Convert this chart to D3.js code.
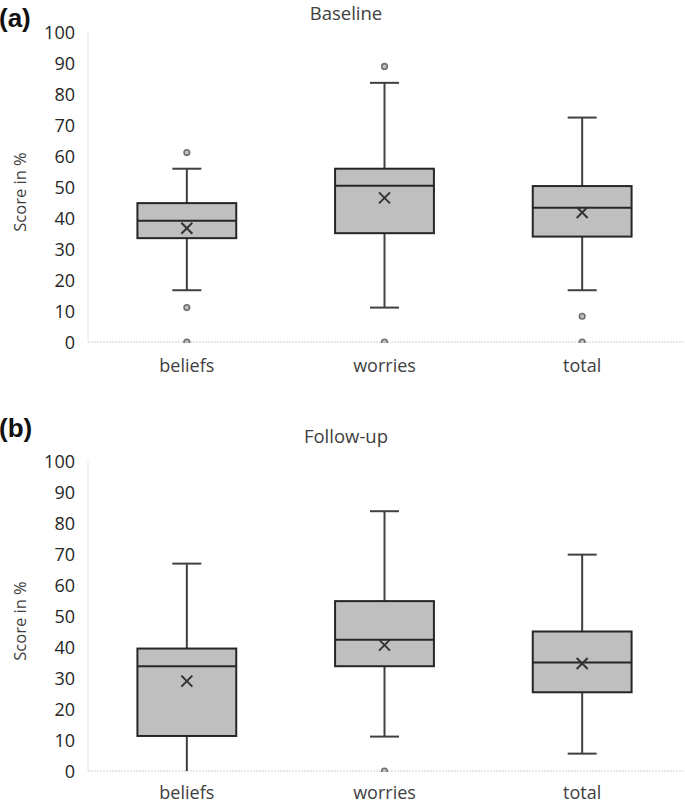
<!DOCTYPE html>
<html>
<head>
<meta charset="utf-8">
<script src="https://cdn.jsdelivr.net/npm/d3@7"></script>
<style>
  html, body { margin: 0; padding: 0; background: #fff; }
  svg { display: block; }
</style>
</head>
<body>
<svg id="chart" width="685" height="803"></svg>
<script>
// ---- data ----
const categories = ["beliefs", "worries", "total"];
const yTicks = [0, 10, 20, 30, 40, 50, 60, 70, 80, 90, 100];

const baselineLow     = [16.7, 11.1, 16.7];
const baselineQ1      = [33.5, 35.1, 34.0];
const baselineMedian  = [39.1, 50.4, 43.3];
const baselineQ3      = [44.8, 55.9, 50.3];
const baselineHigh    = [55.9, 83.6, 72.4];
const baselineMean    = [36.7, 46.5, 41.8];
const baselineOutliers = [[61.1, 11.1, 0], [88.9, 0], [8.3, 0]];

const followupLow     = [0, 11.1, 5.6];
const followupQ1      = [11.3, 33.8, 25.4];
const followupMedian  = [33.8, 42.3, 35.0];
const followupQ3      = [39.5, 54.8, 45.0];
const followupHigh    = [66.9, 83.8, 69.8];
const followupMean    = [29.0, 40.6, 34.7];
const followupOutliers = [[], [0], []];

const panels = [
  { tag: "(a)", title: "Baseline", low: baselineLow, q1: baselineQ1, med: baselineMedian, q3: baselineQ3, high: baselineHigh, mean: baselineMean, out: baselineOutliers, top: 32, bottom: 342, tagY: 27, titleY: 20, catY: 372 },
  { tag: "(b)", title: "Follow-up", low: followupLow, q1: followupQ1, med: followupMedian, q3: followupQ3, high: followupHigh, mean: followupMean, out: followupOutliers, top: 461, bottom: 771, tagY: 437, titleY: 443, catY: 799 }
];

const FONT = "'Open Sans', 'Noto Sans', sans-serif";
const svg = d3.select("#chart");
const left = 88, right = 681;
const x = d3.scaleBand().domain(categories).range([left, right]).padding(0);
const boxW = x.bandwidth() * 0.5;
const capW = 29;
const textColor = "#404040";

panels.forEach((p, pi) => {
  const y = d3.scaleLinear().domain([0, 100]).range([p.bottom, p.top]);
  const g = svg.append("g");

  // panel tag
  g.append("text").attr("x", -1).attr("y", p.tagY)
    .style("font-family", "Arial, 'Liberation Sans', sans-serif")
    .style("font-weight", "bold").style("font-size", "26px").attr("fill", "#111").text(p.tag);

  // title
  g.append("text").attr("x", 346).attr("y", p.titleY).attr("text-anchor", "middle")
    .style("font-family", FONT).style("font-size", "18.5px").attr("fill", textColor).text(p.title);

  // axis lines (light gray)
  g.append("line").attr("x1", left).attr("x2", left).attr("y1", y(100)).attr("y2", y(0))
    .attr("stroke", "#d9d9d9").attr("stroke-width", 1).attr("stroke-dasharray", "2,1");
  g.append("line").attr("x1", left).attr("x2", 685).attr("y1", y(0)).attr("y2", y(0))
    .attr("stroke", "#d0d0d0").attr("stroke-width", 1).attr("stroke-dasharray", "2,1");

  // y axis ticks
  const ya = g.append("g").attr("transform", `translate(${left - 13},0)`)
    .call(d3.axisLeft(y).tickValues(yTicks).tickSize(0).tickPadding(0));
  ya.select(".domain").remove();
  ya.selectAll("text").attr("fill", "#262626")
    .style("font-family", FONT).style("font-size", "18px").attr("dy", "0.35em");

  // y label
  g.append("text").attr("transform", `translate(26,${(y(0) + y(100)) / 2 + 5}) rotate(-90)`)
    .attr("text-anchor", "middle").style("font-family", FONT).style("font-size", "16.5px")
    .attr("fill", textColor).text("Score in %");

  // category labels
  g.selectAll(".cat").data(categories).join("text")
    .attr("x", d => x(d) + x.bandwidth() / 2).attr("y", p.catY)
    .attr("text-anchor", "middle").style("font-family", FONT).style("font-size", "18px")
    .attr("fill", textColor).text(d => d);

  // clip
  const clipId = "clip" + pi;
  svg.append("clipPath").attr("id", clipId).append("rect")
    .attr("x", left).attr("y", y(100) - 10).attr("width", 685 - left).attr("height", y(0) - y(100) + 11);
  const plot = g.append("g").attr("clip-path", `url(#${clipId})`);

  categories.forEach((c, i) => {
    const cx = x(c) + x.bandwidth() / 2;
    const wc = "#404040";
    // whiskers
    plot.append("line").attr("x1", cx).attr("x2", cx).attr("y1", y(p.high[i])).attr("y2", y(p.q3[i]))
      .attr("stroke", wc).attr("stroke-width", 2);
    plot.append("line").attr("x1", cx).attr("x2", cx).attr("y1", y(p.q1[i])).attr("y2", y(p.low[i]))
      .attr("stroke", wc).attr("stroke-width", 2);
    // caps
    if (p.high[i] !== p.q3[i])
      plot.append("line").attr("x1", cx - capW / 2).attr("x2", cx + capW / 2).attr("y1", y(p.high[i])).attr("y2", y(p.high[i]))
        .attr("stroke", wc).attr("stroke-width", 2);
    if (p.low[i] > 0)
      plot.append("line").attr("x1", cx - capW / 2).attr("x2", cx + capW / 2).attr("y1", y(p.low[i])).attr("y2", y(p.low[i]))
        .attr("stroke", wc).attr("stroke-width", 2);
    // box
    plot.append("rect").attr("x", cx - boxW / 2).attr("y", y(p.q3[i]))
      .attr("width", boxW).attr("height", y(p.q1[i]) - y(p.q3[i]))
      .attr("fill", "#bfbfbf").attr("stroke", "#262626").attr("stroke-width", 2);
    // median
    plot.append("line").attr("x1", cx - boxW / 2).attr("x2", cx + boxW / 2).attr("y1", y(p.med[i])).attr("y2", y(p.med[i]))
      .attr("stroke", "#262626").attr("stroke-width", 2);
    // mean X
    const my = y(p.mean[i]), s = 5.5;
    plot.append("path").attr("d", `M${cx - s},${my - s}L${cx + s},${my + s}M${cx - s},${my + s}L${cx + s},${my - s}`)
      .attr("stroke", "#333").attr("stroke-width", 2).attr("fill", "none");
    // outliers
    p.out[i].forEach(v => {
      plot.append("circle").attr("cx", cx).attr("cy", y(v)).attr("r", 2.8)
        .attr("fill", "#bfbfbf").attr("stroke", "#6f6f6f").attr("stroke-width", 1.6);
    });
  });
});
</script>
</body>
</html>
